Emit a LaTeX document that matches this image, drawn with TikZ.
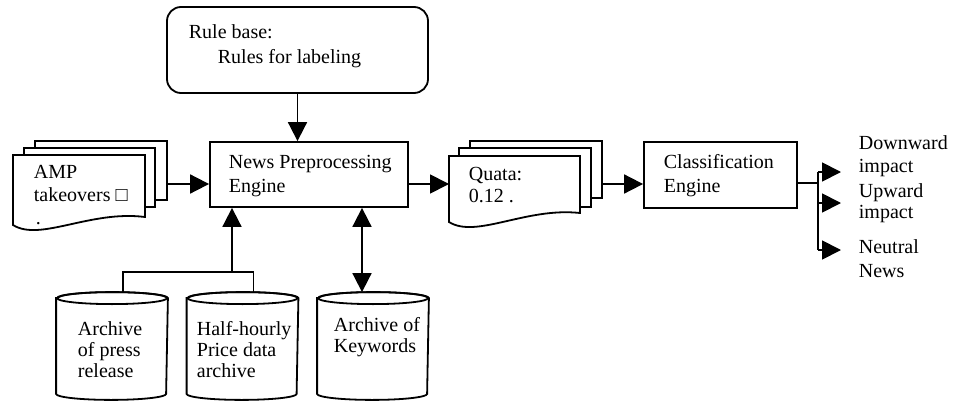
\documentclass[tikz,border=0pt]{standalone}
\usepackage{fontspec}
\setmainfont{Liberation Serif}
\usetikzlibrary{arrows.meta}
% left-aligned stacked lines whose reference point is the first baseline
\newcommand{\txtlines}[1]{\begin{tabular}[t]{@{}l@{}}#1\end{tabular}}

\begin{document}
\begin{tikzpicture}[x=1pt,y=1pt,line width=1.8pt,
  box/.style={draw, fill=white, inner sep=0pt, line width=1.8pt},
  store/.style={inner sep=0pt, minimum width=110pt, minimum height=106pt},
  txt/.style={anchor=base west, inner sep=0pt, font=\fontsize{20}{#1}\selectfont},
  txt/.default=22pt,
  arr/.style={-{Triangle[length=19pt,width=19pt]}},
  dblarr/.style={{Triangle[length=19pt,width=19pt]}-{Triangle[length=19pt,width=19pt]}}]

\useasboundingbox (0,0) rectangle (955,400);

% rule base
\node[box, rounded corners=14pt, minimum width=261pt, minimum height=86pt]
  (rule) at (297.5,350) {};
\node[txt] (ruleHead) at (188,362) {Rule base:};
\node[txt] (ruleBody) at (217,337) {Rules for labeling};

% preprocessing engine
\node[box, minimum width=198pt, minimum height=65pt] (news) at (309,225.5) {};
\node[txt=24pt] (newsTxt) at (228,232) {\txtlines{News Preprocessing\\Engine}};

% input document stack
\node[box, minimum width=132pt, minimum height=59pt] (amp3) at (101,229.5) {};
\node[box, minimum width=131pt, minimum height=59pt] (amp2) at (89.5,222.5) {};
\draw[fill=white] (13,245) -- (13,175) .. controls (40,158) and (90,190) .. (145,183)
  -- (145,245) -- cycle;
\node[txt=23pt] (ampTxt) at (33,222) {\txtlines{AMP\\takeovers □\\\hspace*{2pt}.}};

% quota document stack
\node[box, minimum width=132pt, minimum height=57pt] (quata3) at (536,230.5) {};
\node[box, minimum width=132pt, minimum height=59pt] (quata2) at (525,222.5) {};
\draw[fill=white] (449,244) -- (449,178) .. controls (476,161) and (526,193) .. (580,187)
  -- (580,244) -- cycle;
\node[txt] (quataTxt) at (468,220) {\txtlines{Quata:\\0.12 .}};

% classification engine
\node[box, minimum width=153pt, minimum height=66pt] (class) at (720.5,225) {};
\node[txt=24pt] (classTxt) at (663,232) {\txtlines{Classification\\Engine}};

% data stores
\node[store] (c1) at (112,54) {};
\node[store] (c2) at (242.5,54) {};
\node[store] (c3) at (373,54) {};
\foreach \c in {c1,c2,c3}{
  \draw[fill=white] ([yshift=-6pt]\c.north west) -- ([yshift=6pt]\c.south west)
    arc[start angle=180, end angle=360, x radius=55pt, y radius=6pt]
    -- ([yshift=-6pt]\c.north east)
    arc[start angle=0, end angle=180, x radius=55pt, y radius=6pt] -- cycle;
  \draw ([yshift=-6pt]\c.north) ellipse[x radius=55pt, y radius=6pt];
}
\node[txt=21pt] (c1Txt) at (77,65) {\txtlines{Archive\\of press\\release}};
\node[txt=21pt] (c2Txt) at (196,65) {\txtlines{Half-hourly\\Price data\\archive}};
\node[txt=21pt] (c3Txt) at (333,69) {\txtlines{Archive of\\Keywords}};

% output classes
\node[txt=23pt] (down) at (858,251) {\txtlines{Downward\\impact}};
\node[txt=21pt] (up) at (858,203) {\txtlines{Upward\\impact}};
\node[txt=24pt] (neutral) at (858,147) {\txtlines{Neutral\\News}};

% connectors
\coordinate (flow) at (0,216);
\coordinate (jn) at (232,128);
\coordinate (fork) at (818,217);

\draw[arr] (rule.south) -- (rule.south |- news.north);
\draw[arr] (amp3.east |- flow) -- (news.west |- flow);
\draw[arr] (news.east |- flow) -- (449,216);
\draw[arr] (quata3.east |- flow) -- (class.west |- flow);

\draw ([xshift=11pt]c1.north) |- (jn) -| ([xshift=11pt]c2.north);
\draw[arr] (jn) -- (jn |- news.south);
\draw[dblarr] ([xshift=-11pt]c3.north) -- ([xshift=-11pt]c3.north |- news.south);

\draw (class.east |- fork) -- (fork);
\draw (818,228) -- (818,150);
\draw[arr] (818,228) -- (841,228);
\draw[arr] (818,197) -- (841,197);
\draw[arr] (818,150) -- (841,150);
\end{tikzpicture}
\end{document}
